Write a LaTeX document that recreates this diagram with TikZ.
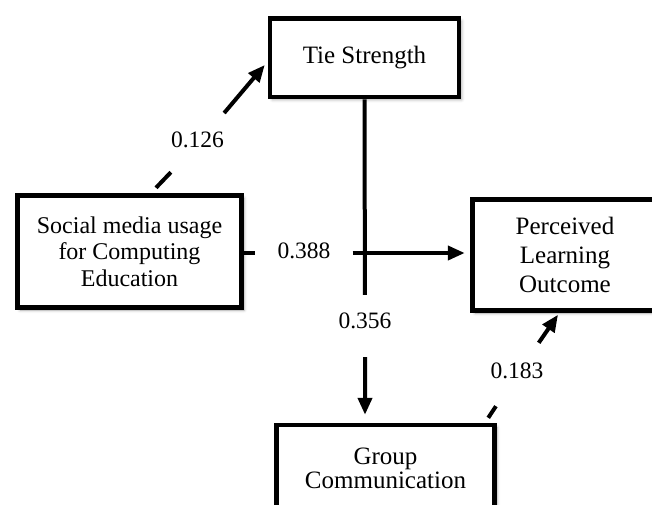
\documentclass[tikz,border=0pt]{standalone}
\usepackage{fontspec}
\setmainfont{Liberation Serif}
\usetikzlibrary{arrows.meta,shadows.blur}
\begin{document}
\begin{tikzpicture}[x=1pt,y=-1pt,
  box/.style={draw=black,line width=4.5pt,fill=white,rectangle,align=center,inner sep=0pt,
    blur shadow={shadow xshift=2.5pt,shadow yshift=-2.5pt,shadow blur radius=3pt,shadow opacity=35}},
  gap/.style={inner sep=0pt,text height=17pt,font={\fontsize{23.5}{26}\selectfont}},
  conn/.style={line width=4pt,-{Triangle[length=17pt,width=14pt]}}
]
\useasboundingbox (0,0) rectangle (652,504);

\node[box,minimum width=189pt,minimum height=78.5pt,font={\fontsize{25}{29}\selectfont}] (ts) at (364.5,57.75) {Tie Strength};
\node[box,minimum width=224pt,minimum height=112pt,font={\fontsize{24}{26.5}\selectfont}] (sm) at (129.5,251.5) {Social media usage\\for Computing\\Education};
\node[box,minimum width=185pt,minimum height=111pt,font={\fontsize{25}{29}\selectfont}] (plo) at (565,255) {Perceived\\Learning\\Outcome};
\node[box,minimum width=218pt,minimum height=86pt,font={\fontsize{25}{24}\selectfont}] (gc) at (385.5,468) {Group\\Communication};

\node[gap,minimum width=51pt,minimum height=63pt,text depth=12pt] (l126) at (197.5,144.5) {0.126};
\node[gap,minimum width=97pt,minimum height=20pt,text depth=7pt] (l388) at (304,253) {0.388};
\node[gap,minimum width=54pt,minimum height=62pt,text depth=13pt] (l356) at (365,326) {0.356};
\node[gap,minimum width=51pt,minimum height=63pt,text depth=10pt] (l183) at (517,374.5) {0.183};

\draw[conn] ([xshift=26.5pt,yshift=5.5pt]sm.north) -- (l126) -- ([xshift=-3pt,yshift=-7.25pt]ts.west);
\draw[conn] ([yshift=-1.5pt]sm.east) -- (l388) -- ([xshift=-5.5pt,yshift=2pt]plo.west);
\draw[conn] (ts.south) -- (l356) -- ([xshift=-20.5pt,yshift=8pt]gc.north);
\draw[conn] ([xshift=-8.5pt,yshift=5pt]gc.north east) -- (l183) -- ([xshift=-7pt,yshift=-2pt]plo.south);
\end{tikzpicture}
\end{document}
